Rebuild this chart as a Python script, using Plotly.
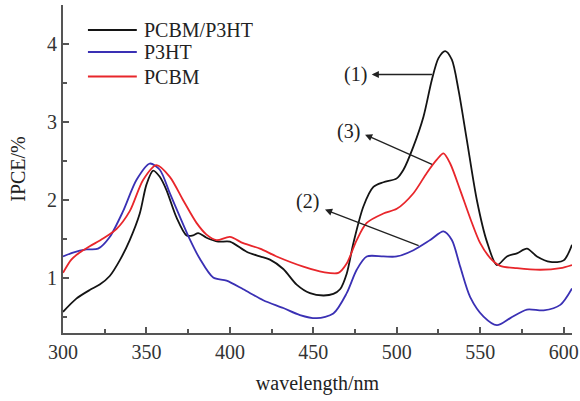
import plotly.graph_objects as go

# IPCE spectra of the three devices
series_names = ["PCBM/P3HT", "P3HT", "PCBM"]
series_colors = ["#141414", "#3a30b4", "#e8262b"]

wl_blend = [300, 308, 316, 322, 328, 334, 340, 346, 350, 354, 358, 362, 368, 374, 378,
            381, 386, 393, 400, 410, 418, 424, 432, 440, 448, 456, 462, 466, 470, 474,
            480, 486, 492, 500, 504, 510, 516, 521, 525, 529, 533, 537, 542, 548, 554,
            560, 566, 572, 578, 584, 592, 600, 605]
ipce_blend = [0.57, 0.74, 0.85, 0.92, 1.03, 1.23, 1.49, 1.83, 2.20, 2.38, 2.30, 2.13, 1.78, 1.55, 1.55,
              1.58, 1.52, 1.47, 1.47, 1.34, 1.28, 1.24, 1.12, 0.92, 0.81, 0.78, 0.80, 0.86, 1.06, 1.45,
              1.92, 2.17, 2.23, 2.28, 2.39, 2.69, 3.07, 3.54, 3.82, 3.91, 3.80, 3.41, 2.77, 2.00, 1.47,
              1.17, 1.28, 1.32, 1.38, 1.28, 1.21, 1.23, 1.43]

wl_p3ht = [300, 306, 314, 321, 328, 336, 344, 352, 358, 364, 370, 376, 382, 390, 398,
           408, 420, 432, 442, 452, 462, 470, 476, 482, 492, 500, 510, 520, 528, 533,
           538, 544, 552, 560, 568, 578, 588, 598, 605]
ipce_p3ht = [1.28, 1.33, 1.37, 1.38, 1.53, 1.86, 2.26, 2.47, 2.39, 2.09, 1.79, 1.50, 1.25, 1.01, 0.97,
             0.86, 0.72, 0.62, 0.53, 0.49, 0.55, 0.81, 1.11, 1.28, 1.28, 1.28, 1.36, 1.49, 1.60, 1.49,
             1.15, 0.76, 0.51, 0.40, 0.49, 0.60, 0.59, 0.66, 0.87]

wl_pcbm = [300, 305, 310, 316, 324, 332, 340, 348, 356, 364, 372, 380, 386, 392, 400,
           408, 418, 428, 444, 456, 465, 470, 476, 482, 492, 500, 510, 518, 524, 528,
           532, 538, 544, 550, 556, 562, 572, 586, 598, 605]
ipce_pcbm = [1.07, 1.24, 1.33, 1.41, 1.51, 1.63, 1.86, 2.26, 2.45, 2.30, 2.00, 1.71, 1.56, 1.49, 1.53,
             1.45, 1.38, 1.28, 1.15, 1.08, 1.07, 1.19, 1.49, 1.71, 1.83, 1.89, 2.09, 2.35, 2.52, 2.60,
             2.47, 2.13, 1.77, 1.45, 1.26, 1.16, 1.13, 1.11, 1.13, 1.17]

x_ticks = [300, 350, 400, 450, 500, 550, 600]
y_ticks = [1, 2, 3, 4]

# curve labels: (label, text position, arrow head, arrow tail on curve)
curve_labels = ["(1)", "(3)", "(2)"]
label_pos = [(475, 3.61), (471, 2.88), (446.5, 1.98)]
arrow_head = [(485, 3.61), (481, 2.84), (457, 1.88)]
arrow_tail = [(522, 3.61), (522, 2.45), (514, 1.41)]

FONT = "Liberation Serif, Times New Roman, serif"

fig = go.Figure()
for name, color, xs, ys in zip(series_names, series_colors,
                               [wl_blend, wl_p3ht, wl_pcbm],
                               [ipce_blend, ipce_p3ht, ipce_pcbm]):
    fig.add_trace(go.Scatter(x=xs, y=ys, mode="lines", name=name,
                             line=dict(color=color, width=1.8, shape="spline", smoothing=0.8),
                             showlegend=False))

# hand-drawn legend in the upper-left corner
leg_y = [0.924, 0.857, 0.782]
for name, color, yy in zip(series_names, series_colors, leg_y):
    fig.add_shape(type="line", xref="paper", yref="paper", x0=0.049, x1=0.145, y0=yy, y1=yy,
                  line=dict(color=color, width=2))
    fig.add_annotation(xref="paper", yref="paper", x=0.155, y=yy, text=name, showarrow=False,
                       xanchor="left", yanchor="middle", font=dict(family=FONT, size=20, color="#222"))

for lab, (tx, ty), (hx, hy), (sx, sy) in zip(curve_labels, label_pos, arrow_head, arrow_tail):
    fig.add_annotation(x=tx, y=ty, text=lab, showarrow=False,
                       font=dict(family=FONT, size=20, color="#222"))
    fig.add_annotation(x=hx, y=hy, ax=sx, ay=sy, axref="x", ayref="y", text="",
                       showarrow=True, arrowhead=2, arrowsize=1.1, arrowwidth=1.3, arrowcolor="#222")

axis_common = dict(showline=True, linecolor="#555", linewidth=2, ticks="inside", ticklen=6,
                   tickwidth=1.5, tickcolor="#555", showgrid=False, zeroline=False, mirror=False,
                   tickfont=dict(family=FONT, size=20, color="#333"))

fig.update_xaxes(range=[300, 605], tickvals=x_ticks,
                 minor=dict(dtick=25, tick0=300, ticks="inside", ticklen=4, tickcolor="#555", tickwidth=1.5),
                 title=dict(text="wavelength/nm", font=dict(family=FONT, size=20, color="#222"), standoff=14),
                 **axis_common)
fig.update_yaxes(range=[0.3, 4.5], tickvals=y_ticks,
                 minor=dict(dtick=0.5, tick0=0.5, ticks="inside", ticklen=4, tickcolor="#555", tickwidth=1.5),
                 title=dict(text="IPCE/%", font=dict(family=FONT, size=20, color="#222"), standoff=16),
                 **axis_common)

fig.update_layout(width=580, height=401, margin=dict(l=63, r=8, t=5, b=68, autoexpand=False),
                  plot_bgcolor="white", paper_bgcolor="white", showlegend=False)

fig.write_html("out.html")
